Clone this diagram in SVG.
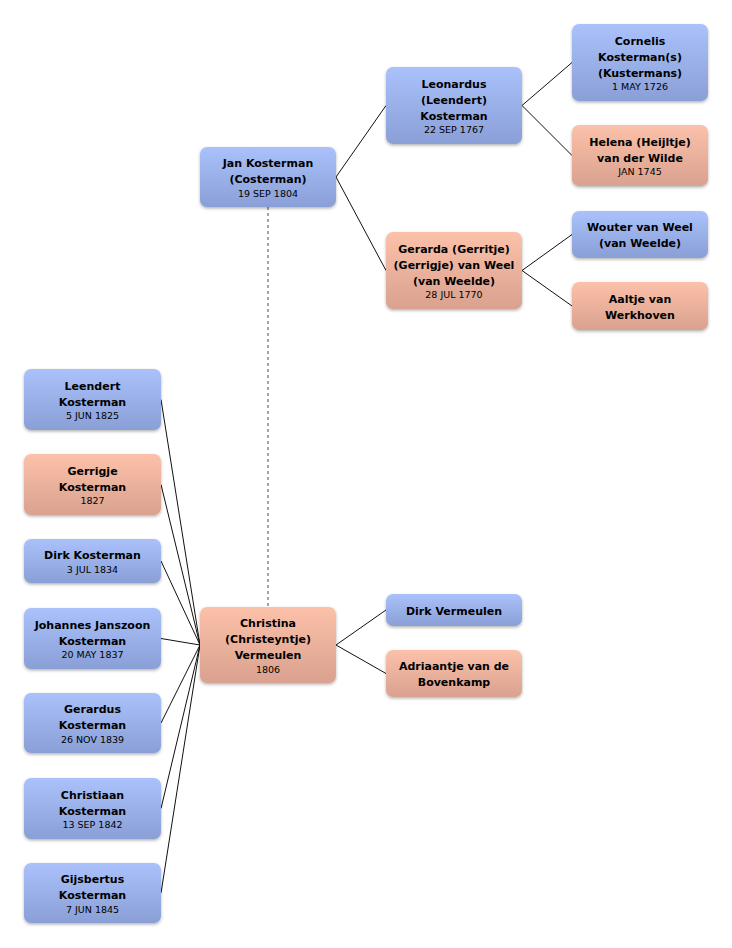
<svg xmlns="http://www.w3.org/2000/svg" width="732" height="948" viewBox="0 0 732 948">
<defs>
<linearGradient id="gBlue" x1="0" y1="0" x2="0" y2="1">
<stop offset="0" stop-color="#aac1fb"/>
<stop offset="1" stop-color="#8a9fd6"/>
</linearGradient>
<linearGradient id="gPink" x1="0" y1="0" x2="0" y2="1">
<stop offset="0" stop-color="#fcc1a9"/>
<stop offset="1" stop-color="#d9a18f"/>
</linearGradient>
<filter id="sh" x="-10%" y="-15%" width="120%" height="135%">
<feDropShadow dx="0" dy="1.5" stdDeviation="1.5" flood-color="#000" flood-opacity="0.3"/>
</filter>
</defs>
<style>
.m{fill:url(#gBlue);filter:url(#sh)}
.f{fill:url(#gPink);filter:url(#sh)}
text{font-family:"DejaVu Sans","Liberation Sans",sans-serif;text-anchor:middle;fill:#000}
.n{font-size:11px;font-weight:bold}
.d{font-size:9.5px}
.c line{stroke:#111;stroke-width:1}
</style>
<rect width="732" height="948" fill="#fff"/>
<g id="connectors" class="c">
<line x1="268" y1="207" x2="268" y2="607" stroke="#888" stroke-width="1.5" stroke-dasharray="3 3" style="stroke:#888;stroke-width:1.5"/>
<line x1="336" y1="177" x2="386" y2="105.5"/>
<line x1="336" y1="177" x2="386" y2="270.5"/>
<line x1="522" y1="105.5" x2="572" y2="62.5"/>
<line x1="522" y1="105.5" x2="572" y2="155.5"/>
<line x1="522" y1="270.5" x2="572" y2="234.5"/>
<line x1="522" y1="270.5" x2="572" y2="306"/>
<line x1="336" y1="645" x2="386" y2="610"/>
<line x1="336" y1="645" x2="386" y2="673.5"/>
<line x1="200" y1="645" x2="161" y2="399.5"/>
<line x1="200" y1="645" x2="161" y2="484.5"/>
<line x1="200" y1="645" x2="161" y2="561"/>
<line x1="200" y1="645" x2="161" y2="638.5"/>
<line x1="200" y1="645" x2="161" y2="723"/>
<line x1="200" y1="645" x2="161" y2="808.5"/>
<line x1="200" y1="645" x2="161" y2="893"/>
</g>
<g id="jan">
<rect class="m" x="200" y="147" width="136" height="60" rx="7"/>
<text class="n" x="268" y="167.3">Jan Kosterman</text>
<text class="n" x="268" y="183.3">(Costerman)</text>
<text class="d" x="268" y="196.7">19 SEP 1804</text>
</g>
<g id="leonardus">
<rect class="m" x="386" y="67" width="136" height="77" rx="7"/>
<text class="n" x="454" y="87.8">Leonardus</text>
<text class="n" x="454" y="103.8">(Leendert)</text>
<text class="n" x="454" y="119.8">Kosterman</text>
<text class="d" x="454" y="133.2">22 SEP 1767</text>
</g>
<g id="cornelis">
<rect class="m" x="572" y="24" width="136" height="77" rx="7"/>
<text class="n" x="640" y="44.8">Cornelis</text>
<text class="n" x="640" y="60.8">Kosterman(s)</text>
<text class="n" x="640" y="76.8">(Kustermans)</text>
<text class="d" x="640" y="90.2">1 MAY 1726</text>
</g>
<g id="helena">
<rect class="f" x="572" y="125" width="136" height="61" rx="7"/>
<text class="n" x="640" y="145.8">Helena (Heijltje)</text>
<text class="n" x="640" y="161.8">van der Wilde</text>
<text class="d" x="640" y="175.2">JAN 1745</text>
</g>
<g id="gerarda">
<rect class="f" x="386" y="232" width="136" height="77" rx="7"/>
<text class="n" x="454" y="252.8">Gerarda (Gerritje)</text>
<text class="n" x="454" y="268.8">(Gerrigje) van Weel</text>
<text class="n" x="454" y="284.8">(van Weelde)</text>
<text class="d" x="454" y="298.2">28 JUL 1770</text>
</g>
<g id="wouter">
<rect class="m" x="572" y="211" width="136" height="47" rx="7"/>
<text class="n" x="640" y="231">Wouter van Weel</text>
<text class="n" x="640" y="247">(van Weelde)</text>
</g>
<g id="aaltje">
<rect class="f" x="572" y="282" width="136" height="48" rx="7"/>
<text class="n" x="640" y="302.5">Aaltje van</text>
<text class="n" x="640" y="318.5">Werkhoven</text>
</g>
<g id="leendert">
<rect class="m" x="24" y="369" width="137" height="61" rx="7"/>
<text class="n" x="92.5" y="389.8">Leendert</text>
<text class="n" x="92.5" y="405.8">Kosterman</text>
<text class="d" x="92.5" y="419.2">5 JUN 1825</text>
</g>
<g id="gerrigje">
<rect class="f" x="24" y="454" width="137" height="61" rx="7"/>
<text class="n" x="92.5" y="474.8">Gerrigje</text>
<text class="n" x="92.5" y="490.8">Kosterman</text>
<text class="d" x="92.5" y="504.2">1827</text>
</g>
<g id="dirk-kosterman">
<rect class="m" x="24" y="539" width="137" height="44" rx="7"/>
<text class="n" x="92.5" y="559.3">Dirk Kosterman</text>
<text class="d" x="92.5" y="572.7">3 JUL 1834</text>
</g>
<g id="johannes">
<rect class="m" x="24" y="608" width="137" height="61" rx="7"/>
<text class="n" x="92.5" y="628.8">Johannes Janszoon</text>
<text class="n" x="92.5" y="644.8">Kosterman</text>
<text class="d" x="92.5" y="658.2">20 MAY 1837</text>
</g>
<g id="christina">
<rect class="f" x="200" y="607" width="136" height="76" rx="7"/>
<text class="n" x="268" y="627.3">Christina</text>
<text class="n" x="268" y="643.3">(Christeyntje)</text>
<text class="n" x="268" y="659.3">Vermeulen</text>
<text class="d" x="268" y="672.7">1806</text>
</g>
<g id="gerardus">
<rect class="m" x="24" y="693" width="137" height="60" rx="7"/>
<text class="n" x="92.5" y="713.3">Gerardus</text>
<text class="n" x="92.5" y="729.3">Kosterman</text>
<text class="d" x="92.5" y="742.7">26 NOV 1839</text>
</g>
<g id="christiaan">
<rect class="m" x="24" y="778" width="137" height="61" rx="7"/>
<text class="n" x="92.5" y="798.8">Christiaan</text>
<text class="n" x="92.5" y="814.8">Kosterman</text>
<text class="d" x="92.5" y="828.2">13 SEP 1842</text>
</g>
<g id="gijsbertus">
<rect class="m" x="24" y="863" width="137" height="60" rx="7"/>
<text class="n" x="92.5" y="883.3">Gijsbertus</text>
<text class="n" x="92.5" y="899.3">Kosterman</text>
<text class="d" x="92.5" y="912.7">7 JUN 1845</text>
</g>
<g id="dirk-vermeulen">
<rect class="m" x="386" y="594" width="136" height="32" rx="7"/>
<text class="n" x="454" y="614.5">Dirk Vermeulen</text>
</g>
<g id="adriaantje">
<rect class="f" x="386" y="650" width="136" height="47" rx="7"/>
<text class="n" x="454" y="670">Adriaantje van de</text>
<text class="n" x="454" y="686">Bovenkamp</text>
</g>
</svg>
